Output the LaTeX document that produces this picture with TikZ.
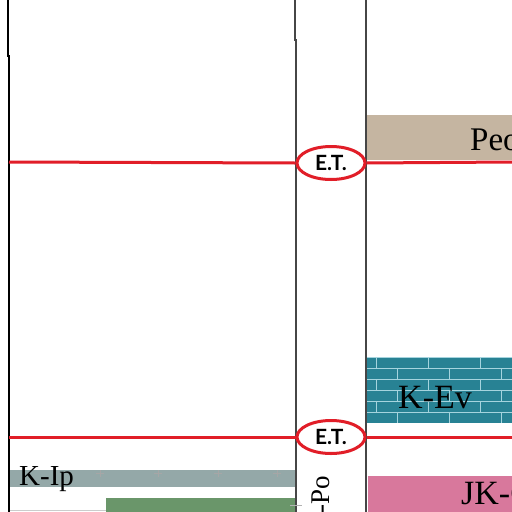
\documentclass[tikz,border=0pt]{standalone}
\usepackage{fontspec}
\setmainfont{Liberation Serif}
\newfontfamily\etfont{Lato}
\definecolor{etred}{RGB}{225,30,40}
\definecolor{tanc}{RGB}{197,181,161}
\definecolor{tealc}{RGB}{40,130,148}
\definecolor{brickc}{RGB}{165,212,222}
\definecolor{grayc}{RGB}{148,168,168}
\definecolor{greenc}{RGB}{106,150,106}
\definecolor{pinkc}{RGB}{216,120,156}
\definecolor{colline}{RGB}{70,70,70}
\tikzset{
  unitlabel/.style={inner sep=0pt, text=black},
  etnode/.style={ellipse, draw=etred, line width=3pt, fill=white, minimum width=68pt, minimum height=33pt, inner sep=0pt, font=\etfont\bfseries\fontsize{21}{21}\selectfont},
  etline/.style={draw=etred, line width=3pt},
  colbord/.style={draw=colline, line width=1.3pt},
}
\usetikzlibrary{shapes.geometric}
\begin{document}
\begin{tikzpicture}[x=1pt,y=-1pt]
\useasboundingbox (0,0) rectangle (512,512);
\clip (0,0) rectangle (512,512);
\fill[white] (0,0) rectangle (512,512);
% tan bed
\fill[tanc] (366,115) rectangle (512,160);
\node[unitlabel, anchor=base west, font=\fontsize{33}{33}\selectfont] (peo) at (470,150) {Peo};
% teal brick bed
\fill[tealc] (366,357) rectangle (512,423);
\begin{scope}
\clip (366,357) rectangle (512,423);
\foreach \r in {0,...,5} {
  \pgfmathsetmacro{\yy}{357+11*\r}
  \draw[brickc, line width=0.9pt] (366,\yy) -- (512,\yy);
  \pgfmathsetmacro{\off}{mod(\r,2)==0 ? 376 : 397}
  \foreach \k in {-1,0,1,2,3} {
    \draw[brickc, line width=0.9pt] ({\off+52*\k},\yy) -- ({\off+52*\k},{\yy+11});
  }
}
\end{scope}
\node[unitlabel, anchor=base west, font=\fontsize{34}{34}\selectfont] (kev) at (398,408) {K-Ev};
% pink bed
\fill[pinkc] (368,476) rectangle (512,512);
\node[unitlabel, anchor=base west, font=\fontsize{34}{34}\selectfont] (jk) at (461,504) {JK-C};
% gray bed K-Ip
\fill[grayc] (9,470) rectangle (295,487);
\foreach \px in {100,158,218,277} {
  \draw[gray!70, line width=0.6pt] (\px-4,473) -- (\px+4,473) (\px,470) -- (\px,477);
}
\node[unitlabel, anchor=base west, font=\fontsize{29}{29}\selectfont] (kip) at (19,485) {K-Ip};
% green bed
\fill[greenc] (106,498) rectangle (295,512);
\draw[gray!40, line width=1pt] (9,510) -- (106,510);
% column borders
\draw[black, line width=1.2pt] (8,0) -- (8,56) -- (9,56) -- (9,512);
\draw[colbord] (295,0) -- (295,40) -- (296,40) -- (296,512);
\draw[colbord] (366,0) -- (366,512);
% middle column text
\node[unitlabel, rotate=90, anchor=base west, font=\fontsize{27}{27}\selectfont] (po) at (329,514) {-Po};
\draw[gray!60, line width=0.8pt] (290,505) -- (302,505);
% E.T. levels
\node[etnode] (et1) at (331,163) {E.T.};
\node[etnode] (et2) at (331,437) {E.T.};
\coordinate (l1) at (9,162);
\coordinate (r1) at (512,162);
\coordinate (l2) at (9,437);
\coordinate (r2) at (512,437);
\draw[etline] (l1) -- (et1.west);
\draw[etline] (et1.east) -- (r1);
\draw[etline] (l2) -- (et2.west);
\draw[etline] (et2.east) -- (r2);
\end{tikzpicture}
\end{document}
